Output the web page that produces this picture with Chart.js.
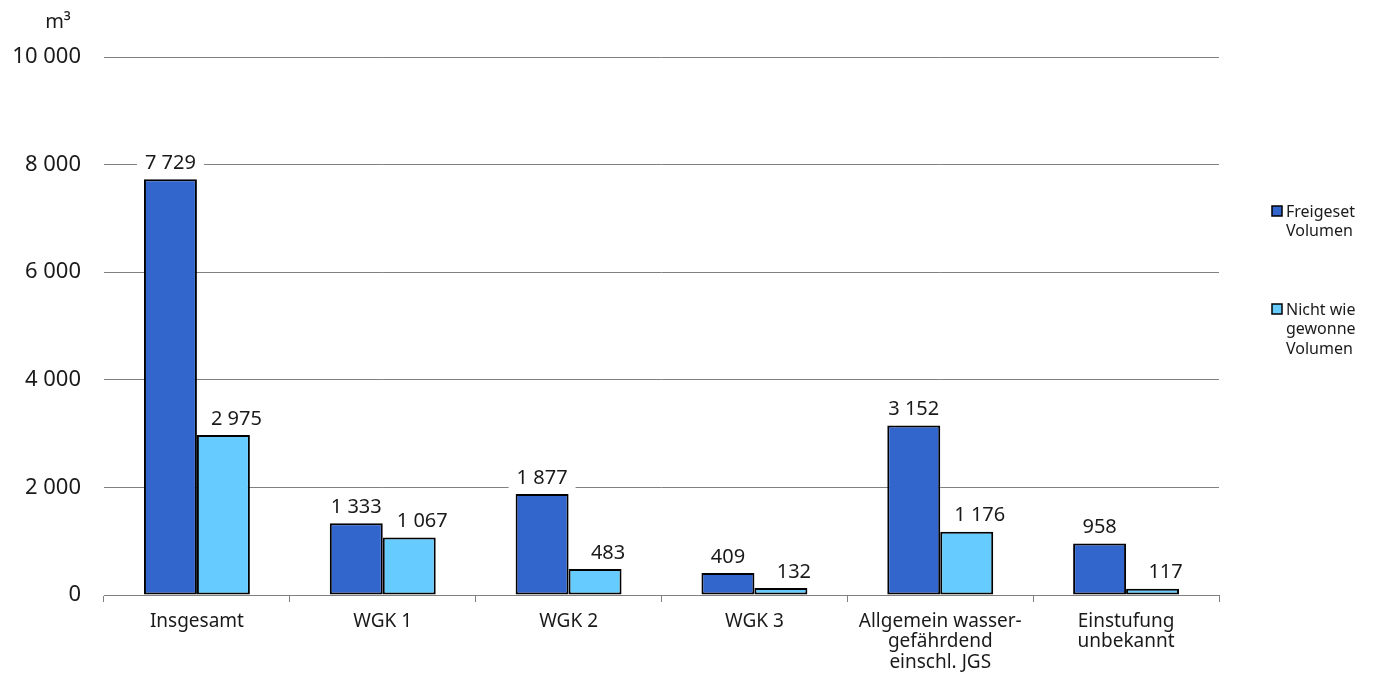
<!DOCTYPE html>
<html>
<head>
<meta charset="utf-8">
<script src="https://cdn.jsdelivr.net/npm/chart.js@4.4.1/dist/chart.umd.min.js"></script>
<style>
html,body{margin:0;padding:0;background:#fff;}
#wrap{width:1375px;height:677px;position:relative;}
</style>
</head>
<body>
<div id="wrap"><canvas id="c"></canvas></div>
<script>
const categories = [
  ["Insgesamt"],
  ["WGK 1"],
  ["WGK 2"],
  ["WGK 3"],
  ["Allgemein wasser-", "gefährdend", "einschl. JGS"],
  ["Einstufung", "unbekannt"]
];
const freigesetzt = [7729, 1333, 1877, 409, 3152, 958];
const nichtWieder = [2975, 1067, 483, 132, 1176, 117];
const legendLabels = [["Freigeset", "Volumen"], ["Nicht wie", "gewonne", "Volumen"]];
const unitLabel = "m³";
const yTicks = [0, 2000, 4000, 6000, 8000, 10000];

const FONT = "'Noto Sans', sans-serif";
const COLORS = ["#3366CC", "#66CCFF"];

function fmt(v){ return String(v).replace(/\B(?=(\d{3})+(?!\d))/g, " "); }

const labelPlugin = {
  id: "barLabels",
  afterDatasetsDraw(chart){
    const ctx = chart.ctx;
    ctx.save();
    ctx.font = "20px " + FONT;
    ctx.textAlign = "center";
    ctx.textBaseline = "middle";
    chart.data.datasets.forEach((ds, di) => {
      const meta = chart.getDatasetMeta(di);
      meta.data.forEach((bar, i) => {
        const txt = fmt(ds.data[i]);
        const x = bar.x + (di === 1 ? 13 : 0);
        const y = bar.y - 17;
        const w = ctx.measureText(txt).width + 16;
        ctx.fillStyle = "#fff";
        ctx.fillRect(x - w/2, y - 11, w, 22);
        ctx.fillStyle = "#1a1a1a";
        ctx.fillText(txt, x, y + 1);
      });
    });
    ctx.restore();
  }
};

const extrasPlugin = {
  id: "extras",
  afterDraw(chart){
    const ctx = chart.ctx;
    ctx.save();
    ctx.font = "20px " + FONT;
    ctx.fillStyle = "#1a1a1a";
    ctx.textAlign = "center";
    ctx.textBaseline = "middle";
    ctx.fillText(unitLabel, 58, 22);
    const starts = [206, 304];
    ctx.beginPath();
    ctx.rect(1230, 150, 128, 250);
    ctx.clip();
    legendLabels.forEach((lines, k) => {
      const y0 = starts[k];
      ctx.fillStyle = COLORS[k];
      ctx.fillRect(1272, y0, 10, 10);
      ctx.lineWidth = 1.5;
      ctx.strokeStyle = "#000";
      ctx.strokeRect(1272, y0, 10, 10);
      ctx.font = "16px " + FONT;
      ctx.fillStyle = "#1a1a1a";
      ctx.textAlign = "left";
      ctx.textBaseline = "middle";
      lines.forEach((ln, j) => {
        ctx.fillText(ln, 1286, y0 + 6 + j * 19.5);
      });
    });
    ctx.restore();
  }
};

new Chart(document.getElementById("c"), {
  type: "bar",
  data: {
    labels: categories,
    datasets: [
      { label: "Freigesetztes Volumen", data: freigesetzt, backgroundColor: COLORS[0], borderColor: "#000", borderWidth: 2, borderSkipped: false, categoryPercentage: 0.57, barPercentage: 1.0 },
      { label: "Nicht wiedergewonnenes Volumen", data: nichtWieder, backgroundColor: COLORS[1], borderColor: "#000", borderWidth: 2, borderSkipped: false, categoryPercentage: 0.57, barPercentage: 1.0 }
    ]
  },
  options: {
    responsive: true,
    maintainAspectRatio: false,
    animation: false,
    layout: { padding: { left: 0, right: 156, top: 57, bottom: 0 } },
    plugins: { legend: { display: false }, tooltip: { enabled: false }, title: { display: false } },
    scales: {
      x: {
        offset: true,
        grid: { display: true, drawOnChartArea: false, drawTicks: true, tickLength: 7, color: "#808080", offset: true },
        border: { display: true, color: "#808080", width: 1 },
        ticks: { color: "#1a1a1a", font: { family: FONT, size: 19, lineHeight: 1.08 }, padding: 9, maxRotation: 0, autoSkip: false },
        afterFit(scale){ scale.height = 82; }
      },
      y: {
        min: 0, max: 10000,
        afterBuildTicks(scale){ scale.ticks = yTicks.map(v => ({ value: v })); },
        grid: { color: "#808080", lineWidth: 1, drawTicks: false },
        border: { display: false },
        ticks: { color: "#1a1a1a", font: { family: FONT, size: 22 }, padding: 23, callback: v => fmt(v) },
        afterFit(scale){ scale.width = 104; }
      }
    }
  },
  plugins: [labelPlugin, extrasPlugin]
});
</script>
</body>
</html>
